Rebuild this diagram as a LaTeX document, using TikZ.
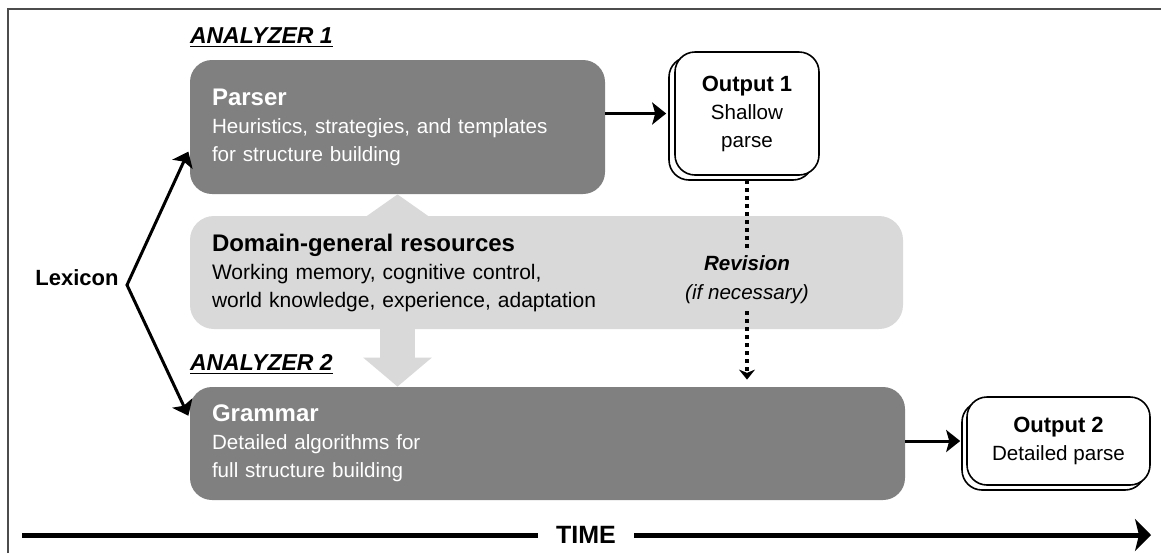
\documentclass[tikz,border=0pt]{standalone}
\usepackage{fontspec}
\setmainfont{Liberation Sans}
\usetikzlibrary{positioning,arrows.meta,shadows}
\definecolor{boxdark}{gray}{0.5}
\definecolor{boxlight}{gray}{0.85}
\definecolor{framegray}{gray}{0.3}
\newcommand{\boxhead}[1]{{\fontsize{12}{14}\selectfont\bfseries #1}}
\newcommand{\outhead}[1]{{\fontsize{11}{14}\selectfont\bfseries #1}}
\tikzset{
  darkbox/.style={fill=boxdark,rounded corners=11pt,text=white,align=left,inner xsep=11pt,font=\fontsize{10.3}{14}\selectfont},
  lightbox/.style={fill=boxlight,rounded corners=12pt,align=left,inner xsep=11pt,font=\fontsize{10.5}{14}\selectfont},
  outbox/.style={draw,line width=0.8pt,fill=white,rounded corners=10pt,align=center,font=\fontsize{10.3}{14}\selectfont},
  tag/.style={inner sep=0pt,anchor=base west,font=\fontsize{11.5}{14}\selectfont\bfseries\itshape},
  link/.style={line width=1.5pt,-{Stealth[length=7pt,width=11pt,inset=1.5pt]}},
  dots/.style={line width=2pt,dash pattern=on 2pt off 2pt},
}
\begin{document}
\begin{tikzpicture}[x=0.5pt,y=-0.5pt]
\useasboundingbox (0,0) rectangle (1161,553);
\fill[white] (0,0) rectangle (1161,553);
\draw[framegray,line width=1pt] (8,553) -- (8,9) -- (1161,9);

\node[darkbox,text width=185.5pt,minimum height=67pt] (parser) at (397.5,127)
  {\boxhead{Parser}\\ Heuristics, strategies, and templates\\ for structure building};
\node[darkbox,text width=335.5pt,minimum height=56.5pt] (grammar) at (547.5,443.5)
  {\boxhead{Grammar}\\ Detailed algorithms for\\ full structure building};
\draw[boxlight,line width=17.5pt,{Triangle[length=12pt,width=33.5pt]}-{Triangle[length=14.5pt,width=33.5pt]}]
  (parser.south) -- (parser.south |- grammar.north);
\node[lightbox,text width=334.5pt,minimum height=56.5pt] (domain) at (546.5,272.5)
  {\boxhead{Domain-general resources}\\ Working memory, cognitive control,\\ world knowledge, experience, adaptation};

\node[tag] (an1) at ([yshift=8pt]parser.north west) {\underline{ANALYZER 1}};
\node[tag] (an2) at ([yshift=8pt]grammar.north west) {\underline{ANALYZER 2}};

\node[outbox,minimum width=72pt,minimum height=61.5pt,copy shadow={shadow xshift=-3pt,shadow yshift=-2.5pt}] (out1) at (747,113.5)
  {\outhead{Output 1}\\ Shallow\\ parse};
\node[outbox,minimum width=91.5pt,minimum height=44pt,copy shadow={shadow xshift=-2.5pt,shadow yshift=-2.5pt}] (out2) at (1058.5,441)
  {\outhead{Output 2}\\ Detailed parse};

\draw[link,shorten >=4pt] (parser.east |- out1) -- (out1);
\draw[link,shorten >=3pt] (grammar.east |- out2) -- (out2);

\node[align=center,font=\fontsize{10.3}{14.5}\selectfont] (revision) at (747,280)
  {\textbf{\textit{Revision}}\\ \textit{(if necessary)}};
\draw[dots,shorten <=2pt] (out1) -- (revision);
\draw[dots,-{Stealth[length=5pt,width=8pt]},shorten >=3.5pt] (revision) -- (revision |- grammar.north);

\node[font=\fontsize{11}{13}\selectfont\bfseries] (lexicon) at (77,278) {Lexicon};
\coordinate (fork) at (127,285);
\draw[line width=1.5pt,{Stealth[length=7pt,width=11pt,inset=1.5pt]}-{Stealth[length=7pt,width=11pt,inset=1.5pt]},shorten <=1.5pt,shorten >=1.5pt]
  (parser.186) -- (fork) -- (grammar.176);

\node[font=\fontsize{12.5}{14}\selectfont\bfseries,inner xsep=9pt] (time) at (586,535) {TIME};
\coordinate (start) at (22,535);
\coordinate (end) at (1151,535);
\draw[line width=2.5pt] (start) -- (time);
\draw[line width=2.5pt,-{Stealth[length=8pt,width=16pt,inset=2pt]}] (time) -- (end);
\end{tikzpicture}
\end{document}
